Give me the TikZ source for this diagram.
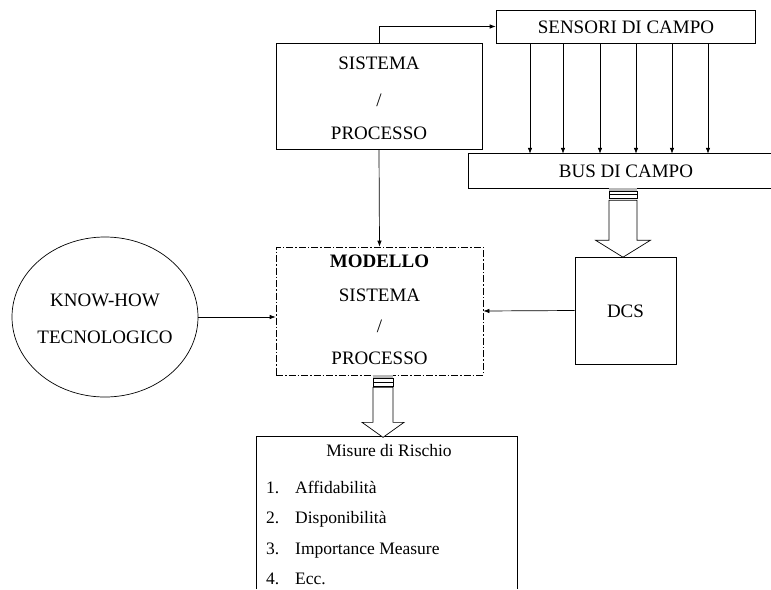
\documentclass[tikz,border=0pt]{standalone}
\usepackage{fontspec}
\setmainfont{Liberation Serif}
\usetikzlibrary{arrows.meta,shapes.geometric,calc}

% Hollow "fat" arrow with striped collar: #1 shaft half width, #2 head half width,
% #3 end of collar, #4 start of head, #5 tip (all relative to the current origin)
\newcommand{\fatarrow}[5]{%
  \fill[gray!55] (-#1,0) rectangle (#1,3);
  \draw[line width=0.5pt] (-#1,3) rectangle (#1,6.5);
  \draw[line width=0.5pt] (-#1,6.5) rectangle (#1,10.5);
  \draw[line width=0.7pt,fill=white,line join=miter]
    (-#1,#3) -- (-#1,#4) -- (-#2,#4) -- (0,#5) -- (#2,#4) -- (#1,#4) -- (#1,#3) -- cycle;}

\begin{document}
\begin{tikzpicture}[x=1pt,y=-1pt,
  box/.style={draw,line width=0.7pt,inner sep=0pt},
  plain/.style={inner sep=0pt},
  lbl/.style={inner sep=0pt,font=\fontsize{19}{23}\selectfont},
  lst/.style={inner sep=0pt,anchor=base west,font=\fontsize{17.5}{21}\selectfont},
  arr/.style={line width=0.7pt,-{Latex[length=6pt,width=4.5pt]}},
  dashdot/.style={dash pattern=on 7pt off 2pt on 1.5pt off 2pt},
]
\useasboundingbox (0,0) rectangle (771,589);

% ---- boxes ----
\node[box,minimum width=259pt,minimum height=33pt] (sens) at (625.5,26.5) {};
\node[lbl] (sensT) at (626,27) {SENSORI DI CAMPO};

\node[box,minimum width=206pt,minimum height=106pt] (sis) at (379,96) {};
\node[lbl] (sis1) at (379,63) {SISTEMA};
\node[lbl] (sis2) at (379,100) {/};
\node[lbl] (sis3) at (379,133) {PROCESSO};

% field bus (runs off the right edge)
\node[plain,minimum width=302pt,minimum height=34pt] (bus) at (620,171) {};
\draw[line width=0.7pt] (bus.north east) -- (bus.north west) -- (bus.south west) -- (bus.south east);
\node[lbl] (busT) at (626,171) {BUS DI CAMPO};

\node[box,minimum width=101pt,minimum height=107pt] (dcs) at (625.5,310.5) {};
\node[lbl] (dcsT) at (625.5,311) {DCS};

\node[box,dashdot,minimum width=207pt,minimum height=128pt] (mod) at (379.5,311) {};
\node[lbl] (mod1) at (379.5,261) {\bfseries MODELLO};
\node[lbl] (mod2) at (379.5,295) {SISTEMA};
\node[lbl] (mod3) at (379.5,326) {/};
\node[lbl] (mod4) at (379.5,358) {PROCESSO};

\node[draw,ellipse,line width=0.7pt,inner sep=0pt,minimum width=186pt,minimum height=160pt] (kh) at (105,317) {};
\node[lbl] (kh1) at (105,300) {KNOW-HOW};
\node[lbl] (kh2) at (105,337) {TECNOLOGICO};

% risk measures (runs off the bottom edge)
\node[plain,minimum width=260pt,minimum height=152pt] (mis) at (387,513) {};
\draw[line width=0.7pt] (mis.south west) -- (mis.north west) -- (mis.north east) -- (mis.south east);
\node[inner sep=0pt,font=\fontsize{17.5}{21}\selectfont] (misT) at (389,451) {Misure di Rischio};
\node[lst] (n1) at (266,493) {1.};
\node[lst] (i1) at (295,493) {Affidabilità};
\node[lst] (n2) at (266,523) {2.};
\node[lst] (i2) at (295,523) {Disponibilità};
\node[lst] (n3) at (266,554) {3.};
\node[lst] (i3) at (295,554) {Importance Measure};
\node[lst] (n4) at (266,584) {4.};
\node[lst] (i4) at (295,584) {Ecc.};

% ---- connectors ----
\draw[arr] (sis.north) |- (sens.west);
\foreach \i/\x in {1/530,2/563,3/600,4/636,5/672,6/708}{
  \coordinate (s\i) at (\x,0);
  \draw[arr] (sens.south -| s\i) -- (bus.north -| s\i);
}
\draw[arr] (sis.south) -- (mod.north);
\draw[arr] (dcs.west) -- (mod.east);
\draw[arr] (kh.east) -- (kh.east -| mod.west);

% hollow arrows
\begin{scope}[shift={(bus.south -| 623,0)}]
  \fatarrow{14}{27.5}{12}{52}{69}
\end{scope}
\begin{scope}[shift={($(mod.south)+(3.5,0)$)}]
  \fatarrow{10}{21}{12}{47}{62}
\end{scope}
\end{tikzpicture}
\end{document}
